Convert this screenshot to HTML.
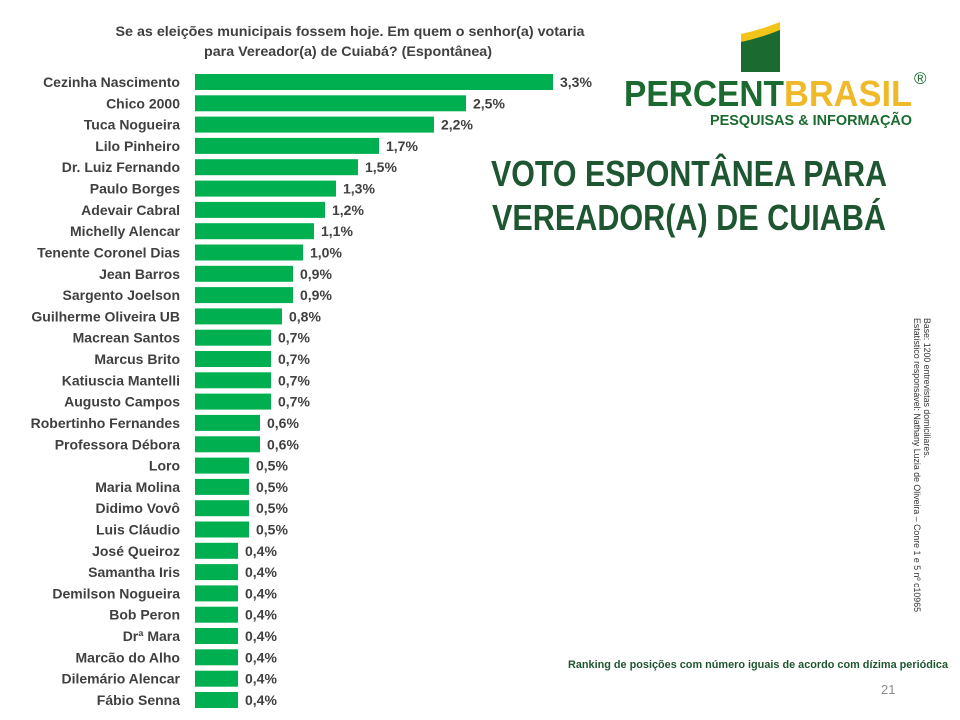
<!DOCTYPE html>
<html><head><meta charset="utf-8"><style>
html,body{margin:0;padding:0;background:#fff;}
svg{display:block;}
</style></head><body>
<svg width="960" height="720" viewBox="0 0 960 720" xmlns="http://www.w3.org/2000/svg" font-family="Liberation Sans, Arial, sans-serif">
<rect width="960" height="720" fill="#fff"/>
<g font-weight="bold" font-size="14" fill="#404040" text-anchor="middle">
<text x="350" y="36" textLength="469" lengthAdjust="spacingAndGlyphs">Se as eleições municipais fossem hoje. Em quem o senhor(a) votaria</text>
<text x="348" y="56" textLength="288" lengthAdjust="spacingAndGlyphs">para Vereador(a) de Cuiabá? (Espontânea)</text>
</g>
<path d="M741 40 Q760 36 780 28 L780 72 L741 72 Z" fill="#1B6B30"/>
<path d="M741 34 Q760 30 780 22 L780 30 Q760 38 741 42 Z" fill="#F2C318"/>
<text x="624" y="106" font-size="36" font-weight="bold" fill="#1B6B30" textLength="160" lengthAdjust="spacingAndGlyphs">PERCENT</text>
<text x="784" y="106" font-size="36" font-weight="bold" fill="#F0B92A" textLength="128" lengthAdjust="spacingAndGlyphs">BRASIL</text>
<text x="914" y="84" font-size="17" fill="#1B6B30">®</text>
<text x="710" y="125" font-size="15" font-weight="bold" fill="#1B6B30" textLength="202" lengthAdjust="spacingAndGlyphs">PESQUISAS &amp; INFORMAÇÃO</text>
<g font-size="36" font-weight="bold" fill="#1E5631">
<text x="491" y="186" textLength="396" lengthAdjust="spacingAndGlyphs">VOTO ESPONTÂNEA PARA</text>
<text x="492" y="230" textLength="394" lengthAdjust="spacingAndGlyphs">VEREADOR(A) DE CUIABÁ</text>
</g>
<g font-size="9" fill="#333" transform="translate(924,318) rotate(90)">
<text x="0" y="0" textLength="140" lengthAdjust="spacingAndGlyphs">Base: 1200 entrevistas domiciliares.</text>
<text x="0" y="10" textLength="294" lengthAdjust="spacingAndGlyphs">Estatístico responsável: Nathany Luzia de Oliveira – Conre 1 e 5 nº c10965</text>
</g>
<text x="568" y="668" font-size="11" font-weight="bold" fill="#1E5631" textLength="380" lengthAdjust="spacingAndGlyphs">Ranking de posições com número iguais de acordo com dízima periódica</text>
<text x="881" y="694" font-size="13" fill="#8c8c8c">21</text>
<g font-size="14" font-weight="bold" fill="#404040">
<g transform="translate(0,82)"><text x="180" y="5" text-anchor="end">Cezinha Nascimento</text><rect x="195" y="-8" width="358" height="16" fill="#00B050"/><text x="560" y="5">3,3%</text></g>
<g transform="translate(0,103.3)"><text x="180" y="5" text-anchor="end">Chico 2000</text><rect x="195" y="-8" width="271" height="16" fill="#00B050"/><text x="473" y="5">2,5%</text></g>
<g transform="translate(0,124.6)"><text x="180" y="5" text-anchor="end">Tuca Nogueira</text><rect x="195" y="-8" width="239" height="16" fill="#00B050"/><text x="441" y="5">2,2%</text></g>
<g transform="translate(0,145.9)"><text x="180" y="5" text-anchor="end">Lilo Pinheiro</text><rect x="195" y="-8" width="184" height="16" fill="#00B050"/><text x="386" y="5">1,7%</text></g>
<g transform="translate(0,167.2)"><text x="180" y="5" text-anchor="end">Dr. Luiz Fernando</text><rect x="195" y="-8" width="163" height="16" fill="#00B050"/><text x="365" y="5">1,5%</text></g>
<g transform="translate(0,188.6)"><text x="180" y="5" text-anchor="end">Paulo Borges</text><rect x="195" y="-8" width="141" height="16" fill="#00B050"/><text x="343" y="5">1,3%</text></g>
<g transform="translate(0,209.9)"><text x="180" y="5" text-anchor="end">Adevair Cabral</text><rect x="195" y="-8" width="130" height="16" fill="#00B050"/><text x="332" y="5">1,2%</text></g>
<g transform="translate(0,231.2)"><text x="180" y="5" text-anchor="end">Michelly Alencar</text><rect x="195" y="-8" width="119" height="16" fill="#00B050"/><text x="321" y="5">1,1%</text></g>
<g transform="translate(0,252.5)"><text x="180" y="5" text-anchor="end">Tenente Coronel Dias</text><rect x="195" y="-8" width="108" height="16" fill="#00B050"/><text x="310" y="5">1,0%</text></g>
<g transform="translate(0,273.8)"><text x="180" y="5" text-anchor="end">Jean Barros</text><rect x="195" y="-8" width="98" height="16" fill="#00B050"/><text x="300" y="5">0,9%</text></g>
<g transform="translate(0,295.1)"><text x="180" y="5" text-anchor="end">Sargento Joelson</text><rect x="195" y="-8" width="98" height="16" fill="#00B050"/><text x="300" y="5">0,9%</text></g>
<g transform="translate(0,316.4)"><text x="180" y="5" text-anchor="end">Guilherme Oliveira UB</text><rect x="195" y="-8" width="87" height="16" fill="#00B050"/><text x="289" y="5">0,8%</text></g>
<g transform="translate(0,337.7)"><text x="180" y="5" text-anchor="end">Macrean Santos</text><rect x="195" y="-8" width="76" height="16" fill="#00B050"/><text x="278" y="5">0,7%</text></g>
<g transform="translate(0,359)"><text x="180" y="5" text-anchor="end">Marcus Brito</text><rect x="195" y="-8" width="76" height="16" fill="#00B050"/><text x="278" y="5">0,7%</text></g>
<g transform="translate(0,380.3)"><text x="180" y="5" text-anchor="end">Katiuscia Mantelli</text><rect x="195" y="-8" width="76" height="16" fill="#00B050"/><text x="278" y="5">0,7%</text></g>
<g transform="translate(0,401.6)"><text x="180" y="5" text-anchor="end">Augusto Campos</text><rect x="195" y="-8" width="76" height="16" fill="#00B050"/><text x="278" y="5">0,7%</text></g>
<g transform="translate(0,422.9)"><text x="180" y="5" text-anchor="end">Robertinho Fernandes</text><rect x="195" y="-8" width="65" height="16" fill="#00B050"/><text x="267" y="5">0,6%</text></g>
<g transform="translate(0,444.3)"><text x="180" y="5" text-anchor="end">Professora Débora</text><rect x="195" y="-8" width="65" height="16" fill="#00B050"/><text x="267" y="5">0,6%</text></g>
<g transform="translate(0,465.6)"><text x="180" y="5" text-anchor="end">Loro</text><rect x="195" y="-8" width="54" height="16" fill="#00B050"/><text x="256" y="5">0,5%</text></g>
<g transform="translate(0,486.9)"><text x="180" y="5" text-anchor="end">Maria Molina</text><rect x="195" y="-8" width="54" height="16" fill="#00B050"/><text x="256" y="5">0,5%</text></g>
<g transform="translate(0,508.2)"><text x="180" y="5" text-anchor="end">Didimo Vovô</text><rect x="195" y="-8" width="54" height="16" fill="#00B050"/><text x="256" y="5">0,5%</text></g>
<g transform="translate(0,529.5)"><text x="180" y="5" text-anchor="end">Luis Cláudio</text><rect x="195" y="-8" width="54" height="16" fill="#00B050"/><text x="256" y="5">0,5%</text></g>
<g transform="translate(0,550.8)"><text x="180" y="5" text-anchor="end">José Queiroz</text><rect x="195" y="-8" width="43" height="16" fill="#00B050"/><text x="245" y="5">0,4%</text></g>
<g transform="translate(0,572.1)"><text x="180" y="5" text-anchor="end">Samantha Iris</text><rect x="195" y="-8" width="43" height="16" fill="#00B050"/><text x="245" y="5">0,4%</text></g>
<g transform="translate(0,593.4)"><text x="180" y="5" text-anchor="end">Demilson Nogueira</text><rect x="195" y="-8" width="43" height="16" fill="#00B050"/><text x="245" y="5">0,4%</text></g>
<g transform="translate(0,614.7)"><text x="180" y="5" text-anchor="end">Bob Peron</text><rect x="195" y="-8" width="43" height="16" fill="#00B050"/><text x="245" y="5">0,4%</text></g>
<g transform="translate(0,636)"><text x="180" y="5" text-anchor="end">Drª Mara</text><rect x="195" y="-8" width="43" height="16" fill="#00B050"/><text x="245" y="5">0,4%</text></g>
<g transform="translate(0,657.3)"><text x="180" y="5" text-anchor="end">Marcão do Alho</text><rect x="195" y="-8" width="43" height="16" fill="#00B050"/><text x="245" y="5">0,4%</text></g>
<g transform="translate(0,678.7)"><text x="180" y="5" text-anchor="end">Dilemário Alencar</text><rect x="195" y="-8" width="43" height="16" fill="#00B050"/><text x="245" y="5">0,4%</text></g>
<g transform="translate(0,700)"><text x="180" y="5" text-anchor="end">Fábio Senna</text><rect x="195" y="-8" width="43" height="16" fill="#00B050"/><text x="245" y="5">0,4%</text></g>
</g>
</svg>
</body></html>
